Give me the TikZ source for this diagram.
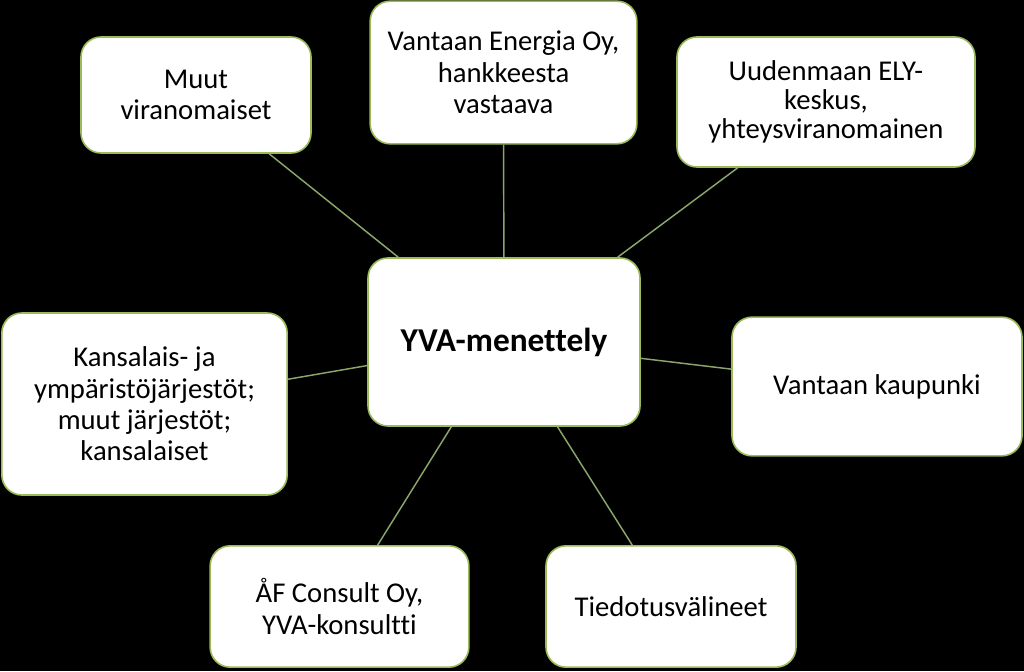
\documentclass[tikz,border=0pt]{standalone}
\usepackage{fontspec}
\setmainfont{Carlito}[Ligatures=NoCommon]
\definecolor{boxline}{HTML}{9BBB59}
\definecolor{linkcol}{HTML}{8AA66A}

\begin{document}
\begin{tikzpicture}[x=0.75pt,y=-0.75pt,
  box/.style={draw=boxline,line width=1.2pt,fill=white,rounded corners=15pt,
              align=center,inner sep=0pt,font=\fontsize{21.5}{23.5}\selectfont},
  link/.style={draw=linkcol,line width=1.1pt}]
\fill[black] (0,0) rectangle (1024,671);
\useasboundingbox (0,0) rectangle (1024,671);

\node [box,minimum width=204pt,minimum height=126pt,font=\fontsize{25}{28}\selectfont\bfseries]
   (yva) at (504,342) {YVA-menettely};
\node [box,minimum width=172.5pt,minimum height=87pt] (muut) at (196,95) {Muut\\viranomaiset};
\node [box,minimum width=200pt,minimum height=107pt] (energia) at (503.5,72.5) {Vantaan Energia Oy,\\hankkeesta\\vastaava};
\node [box,minimum width=223.5pt,minimum height=97.5pt,font=\fontsize{21.5}{21.5}\selectfont] (ely) at (826,102) {Uudenmaan ELY-\\keskus,\\yhteysviranomainen};
\node [box,minimum width=214pt,minimum height=136.5pt] (kansalais) at (144.5,404) {Kansalais- ja\\ympäristöjärjestöt;\\muut järjestöt;\\kansalaiset};
\node [box,minimum width=217.5pt,minimum height=104pt] (kaupunki) at (877,386.5) {Vantaan kaupunki};
\node [box,minimum width=194pt,minimum height=91pt,font=\fontsize{21.5}{24.5}\selectfont] (af) at (339.5,606.5) {ÅF Consult Oy,\\YVA-konsultti};
\node [box,minimum width=187.5pt,minimum height=91pt] (tiedotus) at (671,606.5) {Tiedotusvälineet};

\foreach \n in {muut,energia,ely,kansalais,kaupunki,af,tiedotus}
   \draw [link] (yva) -- (\n);
\end{tikzpicture}
\end{document}
